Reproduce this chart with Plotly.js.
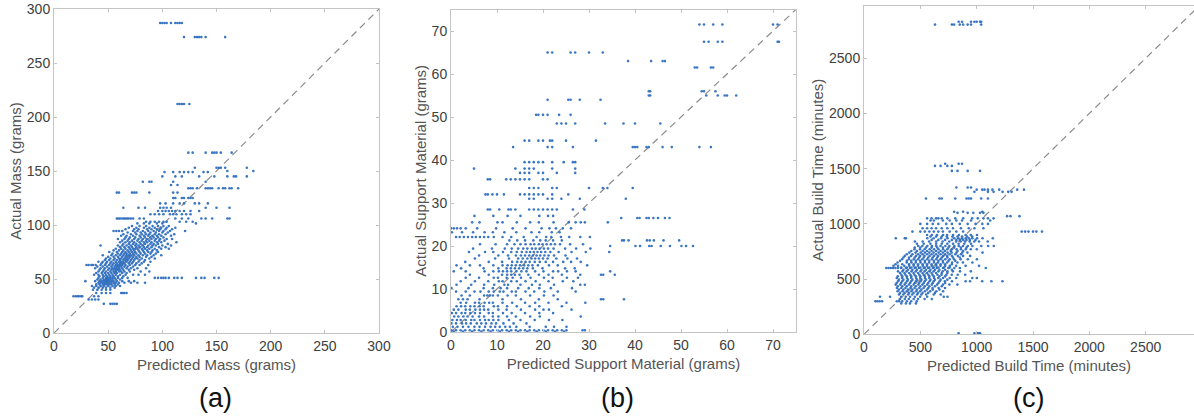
<!DOCTYPE html>
<html>
<head>
<meta charset="utf-8">
<script src="https://cdn.plot.ly/plotly-3.0.1.min.js"></script>
<style>
html,body{margin:0;padding:0;background:#fff;}
#chart{width:1194px;height:419px;}
</style>
</head>
<body>
<div id="chart"></div>
<script>
// ---------- DATA (each row = [actual value, list of predicted values]) ----------
const massRows = [
  [287,[98,100,102,104,108,112,114,116,118]],
  [274,[120,130,132,134,136,140,158]],
  [212,[114,116,118,120,125]],
  [167,[124,128,140,146,148,150,154,164]],
  [153,[130,150,152,154,158,178]],
  [150,[160,184]],
  [149,[102,110,116,120,124,128,138,142]],
  [145,[100,112,118,134,148,160,166,168,178]],
  [140,[82,88,90,110,140]],
  [137,[108,114]],
  [134,[124,126,128,132,140,142,144,146,152,156,158,162,164,170]],
  [130,[58,60,72,74,76,88,110,114]],
  [125,[110,112,118,120,124,126,128]],
  [120,[98,103,110,116,120,130,134,142]],
  [116,[64,78,84,98,101,104,108,140,150,162]],
  [113,[96,100,103,106,109,112,116,120,126,134]],
  [110,[89,93,97,101,107,110,113,118,122,126]],
  [106,[58,59.5,61,63,64.5,66,67.5,69,71,73,79,83,112,118,124,136,140,146,160,162]],
  [103,[85,89,93,97,101,104,116,122,128]],
  [101.5,[77,83,88,95,100,131]],
  [99,[72,79,85,91,96,101,106]],
  [97.5,[69,76,83,88,93,99,104,112]],
  [96,[66,74,78,86,90,95,98,103,109]],
  [94.5,[55,57.5,60,63,73,77,82,87,92,97,101,107,121]],
  [93,[68,75,80,84,89,94,100,105]],
  [91.5,[64,71,76,81,85,88,93,97,103,111]],
  [90,[62,67,73,79,83,87,91,95,99,108]],
  [88.5,[66,70,75,80,84,89,92,96,101]],
  [87,[59,65,69,74,78,82,86,90,94,98,104,109]],
  [85.5,[63,68,72,77,81,85,88,93,97,102]],
  [84,[61,66,70,74,79,83,86,90,95,99,113]],
  [82.5,[64,69,73,76,80,84,89,92,96,105]],
  [81,[43,59,63,67,71,75,78,82,87,91,94,100,108]],
  [79.5,[61,65,69,72,76,79,83,86,90,97,103]],
  [78,[57,62,66,70,73,75,77,81,84,88,93,99,106]],
  [76.5,[55,60,64,68,71,74,78,82,86,91,95]],
  [75,[51,58,63,66,69,72,75,79,83,87,90,96]],
  [73.5,[54,59,62,65,67,70,73,76,80,84,89,94]],
  [72,[45,53,57,61,64,67,69,71,74,78,82,86,92,99]],
  [70.5,[50,55,59,63,66,68,70,73,76,79,85,90]],
  [69,[48,52,56,60,62,65,67,69,72,75,77,81,88,93]],
  [67.5,[47,51,55,58,61,64,66,68,71,74,79,84]],
  [66,[41,45,49,53,57,60,62,64,67,70,73,78,83,89]],
  [64.5,[44,48,52,55,58,61,63,65,69,72,76,81]],
  [63,[30,32,34.5,36,38.5,43,47,51,54,57,59,61,63,66,70,75,79,87]],
  [61.5,[40,45,49,53,56,58,60,62,65,68,73]],
  [60,[38,43,47,51,54,56,58,60,63,67,71,77,85]],
  [58.5,[42,46,50,53,55,57,59,61,64,69,74]],
  [57,[41,45,48,52,55,57,60,62,65,70,80,88]],
  [55.5,[39,44,47,50,53,56,58,63,67]],
  [54,[37,41,45,48,51,54,57,61,66,73,78,84]],
  [52.5,[42,46,49,52,55,59,64]],
  [51,[41,45,48,50,52,54,56,59,63,68,93,96,99,101,103,106,111,114,118,131,136,139,148,152]],
  [49.5,[40,43,46,48,50,52,54,57,61]],
  [48,[29,38,42,44,46,48,49,51,53,55,58,63,69,74]],
  [46.5,[41,43,45,47,49,51,53,55,57,60,65,71,77,84]],
  [45,[39,42,45,47,49,51,53,56,59]],
  [43.5,[35,39,43,46,50,54,57,61]],
  [42,[37,41,45,48,52,56]],
  [40,[36,40,44,48,52]],
  [37,[39,44,48,52,62,63.5,65,67]],
  [34,[18,20,21.5,23,25,26,37,41]],
  [31,[32,35,38,41]],
  [27,[46,52,54,56,58]]
];

const supportRows = [
  [71.5,[54,55,57,59,70,71]],
  [67.5,[55,56,58,59,71,71.3]],
  [65,[21,22,26,27,30,33]],
  [63,[38.5,43.5,46,46.5]],
  [61.5,[53,53.5,56.5,57]],
  [56,[43,43.3,54.5,55,57.5]],
  [55,[43,43.3,55.5,58,59.5,60,62]],
  [54,[21,25.5,26,28,32.5]],
  [50.5,[18.5,19,20,21,23.5,26]],
  [48.5,[23,24,25,27,33.5,37.5,40,45.5]],
  [44.5,[16,17,19,20,21.5,22,25,31.5]],
  [43,[13.5,21,22,26.5,39.5,40,40.5,42.5,43,46,48,54,56.5]],
  [39.5,[16,17,18,19,20,22,24.5,26.5,27]],
  [38,[5,14,16,17,18,22,27]],
  [37,[15,16,17,19,20,23,27]],
  [35.5,[8,8.5,12,13,14,15,16,17,20,21]],
  [33.5,[17,18,19,22,23,30,33,34,39.5]],
  [32,[7.5,8,9,10,11.5,15,16,17,18,19,20,22,25.5]],
  [31,[17,18,21,22,24,28,38]],
  [28.5,[8,8.5,10.5,12.5,13,14,17,18,19,20,21,22,23,26.5,29]],
  [27,[5.1,9.2,12.3,15.1,19.2,21.1,22.2]],
  [26.5,[37,40.5,41,42.5,43,44,45,46.5,47.5]],
  [25.5,[4.6,6.2,10.1,11.2,14.3,17.2,19.1,22.3,25.6,27.1,28.2,29.1,34.1]],
  [24.1,[0,0.6,1.3,2.1,3.2,5.7,9.8,13.4,16.2,19.7,21.4,22.8,24.3,26.1]],
  [23.2,[0.2,2.4,4.8,7.3,9.1,11.6,14.2,17.5,19.2,21.9,23.6]],
  [22.1,[1.1,1.9,2.8,3.7,4.6,5.4,6.3,7.2,8.1,9.3,11.2,13.1,15.8,18.6,20.7,21.8,23.9,25.7,28.1,30.2]],
  [21.3,[12.7,14.4,16.1,17.9,19.4,20.6,22.2,24.1,37.2,37.6,38.6,42.6,43.2,44.1,46.2,49.6]],
  [20.4,[6.3,9.7,12.2,13.8,15.1,16.2,17.3,18.1,19.1,19.9,20.8,21.7,22.6,23.7,25.9,28.7]],
  [20.0,[34.6,40.1,41.1,43.1,43.6,45.6,47.6,50.1,51.1,52.6]],
  [19.4,[4.8,8.9,11.7,13.2,14.6,15.7,16.6,17.6,18.4,19.3,20.2,21.1,22.3,24.8,27.2,30.3]],
  [18.6,[3.9,7.4,9.2,11.3,13.1,14.3,15.4,16.4,17.2,18.0,18.8,19.6,20.5,21.6,23.4,26.2,29.3,34.4]],
  [17.8,[6.1,10.3,12.4,14.1,15.2,16.1,17.0,17.8,18.6,19.4,20.3,21.2,22.4,24.9]],
  [17.1,[5.2,9.6,12.6,14.6,15.6,16.6,17.5,18.3,19.1,20.0,21.0,22.9,25.3,27.4]],
  [16.3,[3.1,8.2,11.1,13.3,14.4,15.3,16.2,17.1,18.2,19.3,20.6,22.2,24.4,26.1,28.2]],
  [15.5,[1.2,4.1,6.3,9.2,11.2,12.3,13.2,14.1,15.0,15.9,16.8,17.7,18.9,21.3,23.2,29.6]],
  [14.8,[2.2,7.1,10.3,12.1,13.0,13.9,14.8,15.7,16.6,17.8,19.9,24.8,26.9]],
  [14.1,[0.6,3.2,7.3,9.2,10.4,11.3,12.2,13.1,14.2,15.3,16.4,18.3,20.1,22.2,23.3,25.2,27.1,34.6]],
  [13.3,[4.1,8.2,11.1,12.2,13.1,13.9,14.9,16.8,19.1,21.2,24.1,28.1,32.6,33.1,35.6]],
  [12.6,[3.2,6.1,9.3,10.2,12.1,13.4,15.2,17.3,20.2,22.1,25.2,27.6]],
  [11.8,[2.1,5.2,8.1,10.4,11.2,13.1,14.3,16.2,18.4,21.2,24.3,26.6]],
  [11.0,[1.2,4.4,7.2,9.4,11.6,12.4,15.1,17.6,19.3,22.4,28.1,29.1]],
  [10.2,[0.1,3.8,7.1,9.1,10.8,12.2,14.6,16.9,19.2,21.7,26.3]],
  [9.4,[1.1,3.2,5.1,6.4,8.2,9.3,10.6,11.4,13.2,14.1,16.2,18.1,20.3,23.2,27.1]],
  [8.5,[2.3,4.1,7.2,7.9,8.4,9.1,10.2,12.3,14.1,17.2,20.2,22.3]],
  [7.6,[1.6,2.6,3.6,6.2,11.2,15.2,19.1,23.2,32.6,33.1,37.6]],
  [6.8,[2.1,3.3,5.2,6.1,7.3,8.3,9.1,11.2,13.3,16.1,18.3,21.2,25.1,29.2]],
  [6.0,[1.2,2.2,3.1,4.2,5.1,6.2,7.1,9.3,10.2,12.2,14.3,17.1,19.2,24.1]],
  [5.2,[0.6,1.6,3.2,4.1,5.3,6.3,7.2,8.1,10.3,12.1,15.2,18.3,20.1,21.3,26.2]],
  [4.4,[0.2,1.1,2.3,3.1,4.2,5.2,6.3,8.2,9.1,11.3,13.2,16.1,19.2,22.2]],
  [3.6,[0.7,1.6,2.7,3.6,4.7,6.1,7.2,9.1,10.3,12.2,14.1,17.2,19.3,28.2]],
  [2.8,[0.3,1.3,2.1,3.2,4.4,5.1,6.3,7.4,8.2,9.2,10.3,12.6,15.1,18.2,21.3,24.2]],
  [2.0,[0.1,1.1,2.4,3.3,4.3,5.6,6.6,7.6,8.8,9.8,11.4,13.6,16.4]],
  [1.2,[0.4,1.4,2.6,3.8,5.1,6.2,7.4,8.6,9.6,10.6,11.8,12.8,14.2,17.1,20.6,22.4,25.1]],
  [0.4,[0.1,1.1,2.1,3.1,4.1,5.1,6.1,7.1,8.1,9.1,10.1,11.1,12.1,13.1,14.1,15.1,16.1,17.1,18.1,19.1,20.1,21.1,22.1,23.1,24.1,25.1,28.6,29.1]],
  [0.1,[0.6,2.6,4.6,6.6,8.6,10.6,12.6,14.6,16.6,18.6,20.6,22.6,24.6]]
];

const timeRows = [
  [2830,[840,870,950,980,1000,1030,1040]],
  [2805,[630,780,800,850,880,920,950,1040]],
  [1545,[720,840,870]],
  [1525,[630,680,740,780]],
  [1480,[780,830,920,1030]],
  [1330,[820,920,950]],
  [1310,[1000,1050,1070,1100,1140,1200,1360,1420]],
  [1290,[980,1100,1150,1230,1280,1310]],
  [1230,[550,670,690,810,910,930,950,1040,1100]],
  [1110,[800,880,1050]],
  [1100,[830,920,970,1030,1060]],
  [1070,[1270,1300,1380]],
  [1050,[560,600,640,660,690,740,810,880,960,1010,1060,1100,1150]],
  [1030,[590,620,700,760,820,870,950,1120]],
  [1000,[500,560,610,660,730,780,850,920,990,1050,1100]],
  [960,[520,560,600,640,690,740,790,860,930,980,1060]],
  [930,[430,500,540,580,620,660,700,760,820,880,1400,1430,1460,1500,1530,1580]],
  [900,[560,603,648,702,738,791,843,902,948,1003]],
  [885,[590,640,690,735,785,830,870,915,960]],
  [870,[282,362,372,562,618,683,742,801,838,869,902,931,962,1004,1052,1143]],
  [855,[600,660,720,780,820,850,880,910,940,990]],
  [840,[452,521,578,641,698,757,818,858,897,938,979,1021,1098]],
  [820,[470,530,590,640,690,740,790,840,890,950]],
  [800,[481,518,562,603,641,679,722,758,802,841,879,921,962,1041,1102,1152]],
  [785,[450,500,550,600,650,700,750,800,860,910]],
  [770,[448,497,538,583,622,661,702,739,781,822,861,903,948,1001]],
  [755,[420,470,520,560,600,640,680,720,770,830,880]],
  [740,[402,458,503,541,579,618,662,701,742,778,821,872,918,1052]],
  [725,[380,430,480,520,560,600,640,680,720,760,810,860]],
  [710,[362,418,462,498,537,582,621,658,702,739,781,833,879,942]],
  [695,[350,400,450,490,530,570,610,650,690,740,790,850]],
  [680,[338,398,442,481,518,561,602,641,679,722,761,799,858,921,1002]],
  [665,[320,380,420,460,500,540,580,620,660,700,750,810]],
  [650,[298,379,421,459,502,541,578,621,658,701,738,782,829,878,962]],
  [635,[280,340,400,440,480,520,560,600,640,680,720,780]],
  [620,[262,302,358,401,441,479,522,559,601,642,679,721,762,818,902,1021]],
  [605,[330,380,420,460,500,540,580,620,660,710,760]],
  [600,[198,218,238,258,279,301,329,372,409,451,488,531,569,612,648,701,748,802,851,1081]],
  [585,[350,390,430,470,510,550,590,630,670,720,780]],
  [570,[302,341,378,422,459,501,538,582,618,661,699,741,789,852,948]],
  [555,[320,360,400,440,480,520,560,600,640,690,740]],
  [540,[331,368,412,448,491,529,571,608,652,688,731,779,832,898]],
  [525,[300,340,380,420,460,500,540,580,620,670,720]],
  [510,[291,338,381,419,462,499,541,579,621,659,702,761,819,961,1002]],
  [495,[310,350,390,430,470,510,550,590,630,680,740]],
  [480,[302,339,382,418,461,501,539,582,619,671,718,781,902,941,1049,1131,1229]],
  [465,[290,330,370,410,450,490,530,570,610,660,720]],
  [450,[281,322,361,399,441,482,519,561,602,649,701,758,829]],
  [435,[300,340,380,420,460,500,540,580,630,690]],
  [420,[292,331,368,412,449,491,529,571,609,662,719]],
  [405,[310,350,390,430,470,510,560,610,670]],
  [390,[298,342,379,421,462,498,541,588,642,702]],
  [375,[320,360,400,440,480,520,570,630]],
  [360,[311,349,392,428,471,509,552,619,681]],
  [340,[142,231,329,371,409,452,498,561,708,741]],
  [320,[318,362,398,441,479,538,602]],
  [300,[101,119,139,161,291,312,339,381,419,468]],
  [280,[331,372,408,461]],
  [10,[840,980,1010,1020,1030]]
];

const massTicks = [0,50,100,150,200,250,300];
const supportTicks = [0,10,20,30,40,50,60,70];
const timeTicks = [0,500,1000,1500,2000,2500];
const massRange = [0,300];
const supportRange = [0,75];
const timeXRange = [0,2929];
const timeYRange = [0,2976];
const panelLabels = ['(a)','(b)','(c)'];

// ---------- BUILD ----------
function flatten(rows){
  const x=[], y=[];
  rows.forEach(r => r[1].forEach(p => { x.push(p); y.push(r[0]); }));
  return {x, y};
}
const font = '"Liberation Sans", Arial, Helvetica, sans-serif';
function scatter(rows, xa, ya){
  const d = flatten(rows);
  return {type:'scatter', mode:'markers', x:d.x, y:d.y, xaxis:xa, yaxis:ya,
          marker:{color:'#2f6fbf', size:2.6, opacity:0.95, line:{width:0}}, hoverinfo:'x+y', showlegend:false};
}
function diag(maxv, xa, ya){
  return {type:'scatter', mode:'lines', x:[0,maxv], y:[0,maxv], xaxis:xa, yaxis:ya,
          line:{color:'#8c8c8c', width:1.2, dash:'7px,5px'}, hoverinfo:'skip', showlegend:false};
}
const traces = [
  diag(massRange[1], 'x', 'y'), scatter(massRows, 'x', 'y'),
  diag(supportRange[1], 'x2', 'y2'), scatter(supportRows, 'x2', 'y2'),
  diag(timeYRange[1], 'x3', 'y3'), scatter(timeRows, 'x3', 'y3')
];

const W = 1194, H = 419;
function ax(dom, range, ticks, title, anchor, mirror, standoff){
  return {domain:dom, range:range, tickvals:ticks, ticktext:ticks.map(String), anchor:anchor,
          showline:true, linecolor:'#c4c4c4', linewidth:1, mirror:mirror,
          ticks:'inside', ticklen:3, tickcolor:'#c4c4c4', showgrid:false, zeroline:false,
          tickfont:{family:font, size:14, color:'#404040'},
          title:{text:title, font:{family:font, size:15, color:'#555555'}, standoff:standoff}, automargin:false, fixedrange:true};
}
const labelX = [215, 617, 1028];
const layout = {
  width:W, height:H, margin:{l:0,r:0,t:0,b:0}, paper_bgcolor:'#fff', plot_bgcolor:'#fff',
  xaxis:  ax([54/W, 379/W], massRange, massTicks, 'Predicted Mass (grams)', 'y', 'ticks', 6),
  yaxis:  ax([1-333/H, 1-9/H], massRange, massTicks, 'Actual Mass (grams)', 'x', 'ticks', 1),
  xaxis2: ax([451/W, 796/W], supportRange, supportTicks, 'Predicted Support Material (grams)', 'y2', 'ticks', 6),
  yaxis2: ax([1-332/H, 1-9.5/H], supportRange, supportTicks, 'Actual Support Material (grams)', 'x2', 'ticks', 1),
  xaxis3: ax([864/W, 1], timeXRange, timeTicks, 'Predicted Build Time (minutes)', 'y3', 'ticks', 6),
  yaxis3: ax([1-334.3/H, 1-5.7/H], timeYRange, timeTicks, 'Actual Build Time (minutes)', 'x3', false, 1),
  annotations: panelLabels.map((t,i) => ({text:t, x:labelX[i]/W, y:1-398/H, xref:'paper', yref:'paper',
      xanchor:'center', yanchor:'middle', showarrow:false, font:{family:font, size:27, color:'#111'}}))
};
Plotly.newPlot('chart', traces, layout, {staticPlot:true, displayModeBar:false});
</script>
</body>
</html>
